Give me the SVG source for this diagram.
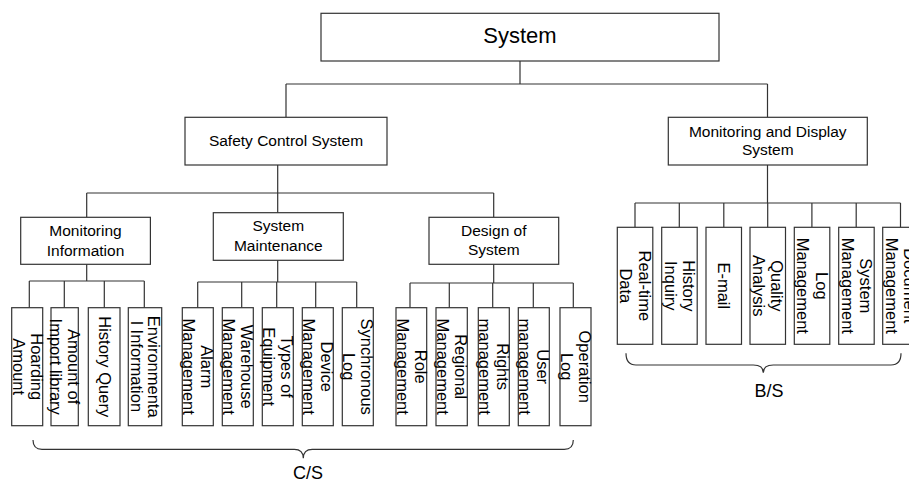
<svg xmlns="http://www.w3.org/2000/svg" width="909" height="483" viewBox="0 0 909 483">
<style>
.box{fill:#fff;stroke:#333;stroke-width:1.2}
.wire{fill:none;stroke:#333;stroke-width:1.2}
text{font-family:"Liberation Sans",Arial,sans-serif;fill:#000}
.t22{font-size:22px;text-anchor:middle}
.t15{font-size:15.5px;text-anchor:middle}
.lf{font-size:16.5px;text-anchor:middle}
.lbl{font-size:18px;text-anchor:middle}
</style>
<g id="connectors" class="wire">
<path d="M520 61V84M286 84H767.5M286 84V117M767.5 84V117"/>
<path d="M277.7 165V213M86.7 193H493.7M86.7 193V217M493.7 193V217"/>
<path d="M86.7 264V281M29.3 281H144.3M29.3 281V307.7M64.3 281V307.7M104.3 281V307.7M144.3 281V307.7"/>
<path d="M277.7 260V282M197.7 282H356.7M197.7 282V307.7M241.7 282V307.7M276.7 282V307.7M315.7 282V307.7M356.7 282V307.7"/>
<path d="M493.7 264V283M410 283H573.3M410 283V307.7M449.3 283V307.7M492.7 283V307.7M533.3 283V307.7M573.3 283V307.7"/>
<path d="M767.5 165V203M635 203H900.5M635 203V227.3M679.3 203V227.3M723.8 203V227.3M767.7 203V227.3M811.9 203V227.3M856.2 203V227.3M900.5 203V227.3"/>
</g>
<g id="system"><rect class="box" x="321" y="13.3" width="398" height="47.7"/><text class="t22" x="520" y="43">System</text></g>
<g id="safety"><rect class="box" x="185" y="117.3" width="202" height="47.7"/><text class="t15" x="286" y="146">Safety Control System</text></g>
<g id="mds"><rect class="box" x="668.3" y="117.3" width="199" height="47.7"/><text class="t15" x="767.8" y="136.5">Monitoring and Display</text><text class="t15" x="767.8" y="154.5">System</text></g>
<g id="mi"><rect class="box" x="20.7" y="217.3" width="129.7" height="47"/><text class="t15" x="85.5" y="236">Monitoring</text><text class="t15" x="85.5" y="255.5">Information</text></g>
<g id="sm"><rect class="box" x="213.3" y="212.7" width="130" height="47.6"/><text class="t15" x="278.3" y="231.3">System</text><text class="t15" x="278.3" y="251">Maintenance</text></g>
<g id="ds"><rect class="box" x="429" y="217.3" width="129.7" height="47"/><text class="t15" x="493.8" y="236">Design of</text><text class="t15" x="493.8" y="255.3">System</text></g>

<g id="leaf-hoarding"><rect class="box" x="11.7" y="307.7" width="31" height="118"/><text class="lf" transform="translate(27.2 366.7) rotate(90)"><tspan x="0" y="-3.4">Hoarding</tspan><tspan x="0" y="14.4">Amount</tspan></text></g>
<g id="leaf-import"><rect class="box" x="51" y="307.7" width="27.3" height="118"/><text class="lf" transform="translate(64.7 366.7) rotate(90)"><tspan x="0" y="-3.4">Amount of</tspan><tspan x="0" y="14.4">Import library</tspan></text></g>
<g id="leaf-history"><rect class="box" x="88.3" y="307.7" width="31.7" height="118"/><text class="lf" transform="translate(104.2 366.7) rotate(90)"><tspan x="0" y="5.5">History Query</tspan></text></g>
<g id="leaf-env"><rect class="box" x="128.3" y="307.7" width="33.4" height="118"/><text class="lf" transform="translate(145 366.7) rotate(90)"><tspan x="0" y="-3.4">Environmenta</tspan><tspan x="0" y="14.4">l Information</tspan></text></g>

<g id="leaf-alarm"><rect class="box" x="182.3" y="307.7" width="31" height="118"/><text class="lf" transform="translate(197.8 366.7) rotate(90)"><tspan x="0" y="-3.4">Alarm</tspan><tspan x="0" y="14.4">Management</tspan></text></g>
<g id="leaf-warehouse"><rect class="box" x="222.3" y="307.7" width="31" height="118"/><text class="lf" transform="translate(237.8 366.7) rotate(90)"><tspan x="0" y="-3.4">Warehouse</tspan><tspan x="0" y="14.4">Management</tspan></text></g>
<g id="leaf-types"><rect class="box" x="262.3" y="307.7" width="31" height="118"/><text class="lf" transform="translate(277.8 366.7) rotate(90)"><tspan x="0" y="-3.4">Types of</tspan><tspan x="0" y="14.4">Equipment</tspan></text></g>
<g id="leaf-device"><rect class="box" x="302.3" y="307.7" width="31" height="118"/><text class="lf" transform="translate(317.8 366.7) rotate(90)"><tspan x="0" y="-3.4">Device</tspan><tspan x="0" y="14.4">Management</tspan></text></g>
<g id="leaf-sync"><rect class="box" x="342.3" y="307.7" width="31" height="118"/><text class="lf" transform="translate(357.8 366.7) rotate(90)"><tspan x="0" y="-3.4">Synchronous</tspan><tspan x="0" y="14.4">Log</tspan></text></g>

<g id="leaf-role"><rect class="box" x="396" y="307.7" width="30.7" height="118"/><text class="lf" transform="translate(411.3 366.7) rotate(90)"><tspan x="0" y="-3.4">Role</tspan><tspan x="0" y="14.4">Management</tspan></text></g>
<g id="leaf-regional"><rect class="box" x="436" y="307.7" width="31.3" height="118"/><text class="lf" transform="translate(451.7 366.7) rotate(90)"><tspan x="0" y="-3.4">Regional</tspan><tspan x="0" y="14.4">Management</tspan></text></g>
<g id="leaf-rights"><rect class="box" x="478.3" y="307.7" width="31" height="118"/><text class="lf" transform="translate(493.8 366.7) rotate(90)"><tspan x="0" y="-3.4">Rights</tspan><tspan x="0" y="14.4">management</tspan></text></g>
<g id="leaf-user"><rect class="box" x="518.3" y="307.7" width="31" height="118"/><text class="lf" transform="translate(533.8 366.7) rotate(90)"><tspan x="0" y="-3.4">User</tspan><tspan x="0" y="14.4">management</tspan></text></g>
<g id="leaf-oplog"><rect class="box" x="560" y="307.7" width="31" height="118"/><text class="lf" transform="translate(575.5 366.7) rotate(90)"><tspan x="0" y="-3.4">Operation</tspan><tspan x="0" y="14.4">Log</tspan></text></g>

<g id="leaf-realtime"><rect class="box" x="617.3" y="227.3" width="35.5" height="117"/><text class="lf" transform="translate(635 285.8) rotate(90)"><tspan x="0" y="-3.6">Real-time</tspan><tspan x="0" y="14.6">Data</tspan></text></g>
<g id="leaf-hinquiry"><rect class="box" x="661.7" y="227.3" width="35.5" height="117"/><text class="lf" transform="translate(679.4 285.8) rotate(90)"><tspan x="0" y="-3.6">History</tspan><tspan x="0" y="14.6">Inquiry</tspan></text></g>
<g id="leaf-email"><rect class="box" x="706" y="227.3" width="35.5" height="117"/><text class="lf" transform="translate(723.8 285.8) rotate(90)"><tspan x="0" y="5.5">E-mail</tspan></text></g>
<g id="leaf-quality"><rect class="box" x="750" y="227.3" width="35.5" height="117"/><text class="lf" transform="translate(767.8 285.8) rotate(90)"><tspan x="0" y="-3.6">Quality</tspan><tspan x="0" y="14.6">Analysis</tspan></text></g>
<g id="leaf-logm"><rect class="box" x="794.3" y="227.3" width="35.5" height="117"/><text class="lf" transform="translate(812 285.8) rotate(90)"><tspan x="0" y="-3.6">Log</tspan><tspan x="0" y="14.6">Management</tspan></text></g>
<g id="leaf-sysm"><rect class="box" x="838.7" y="227.3" width="35.5" height="117"/><text class="lf" transform="translate(856.4 285.8) rotate(90)"><tspan x="0" y="-3.6">System</tspan><tspan x="0" y="14.6">Management</tspan></text></g>
<g id="leaf-doc"><rect class="box" x="882.7" y="227.3" width="35.5" height="117"/><text class="lf" transform="translate(900.5 285.8) rotate(90)"><tspan x="0" y="-3.6">Document</tspan><tspan x="0" y="14.6">Management</tspan></text></g>

<g id="braces" class="wire">
<path d="M33 440Q33 449.3 42 449.3H294.3Q303.3 449.3 303.3 458.3Q303.3 449.3 312.3 449.3H564.3Q573.3 449.3 573.3 440"/>
<path d="M626 353.3Q626 365 636 365H753.3Q763.3 365 763.3 372.7Q763.3 365 773.3 365H891Q901 365 901 353.3"/>
</g>
<g id="labels">
<text class="lbl" x="308" y="478.5">C/S</text>
<text class="lbl" x="769" y="397">B/S</text>
</g>
</svg>
